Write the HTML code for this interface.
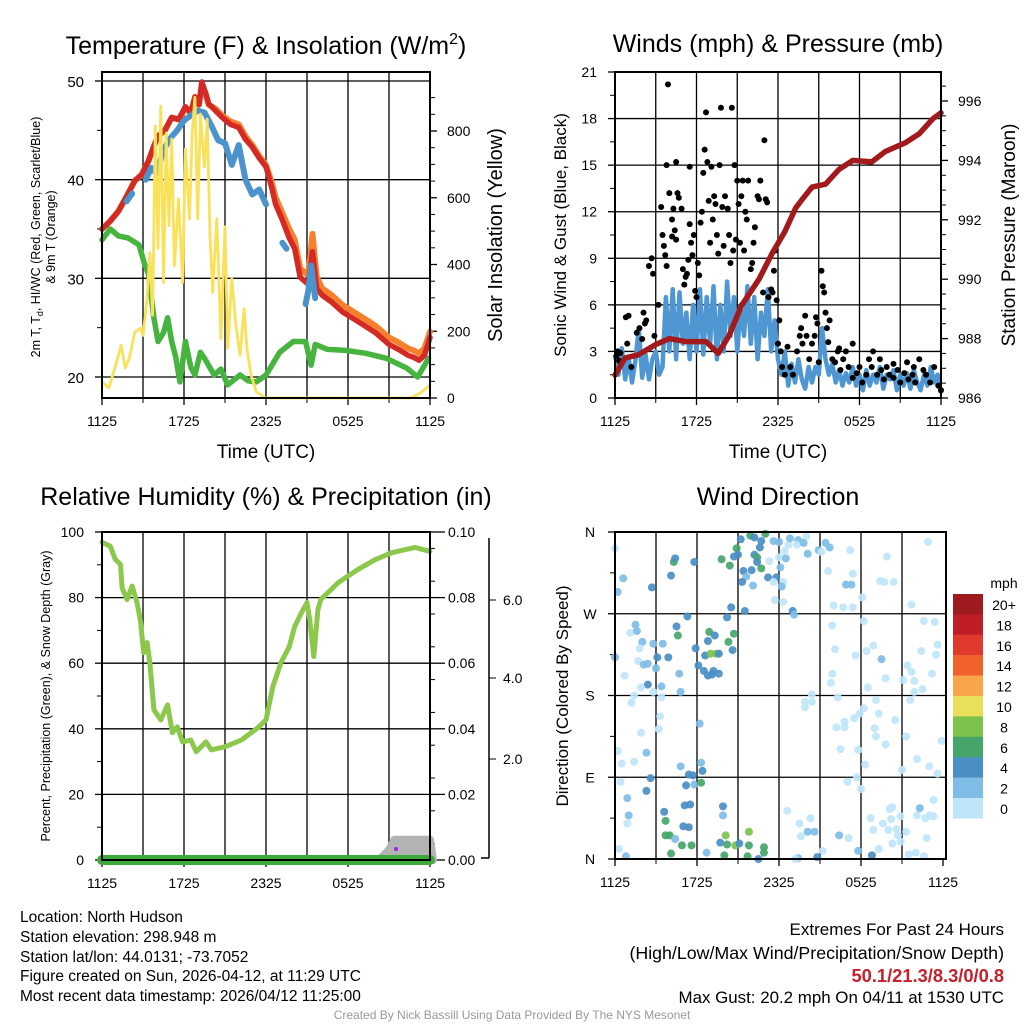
<!DOCTYPE html>
<html><head><meta charset="utf-8"><style>
html,body{margin:0;padding:0;background:#fff;}
svg{display:block;font-family:"Liberation Sans",Arial,sans-serif;}
</style></head><body>
<svg id="svg" width="1024" height="1024" viewBox="0 0 1024 1024" xmlns="http://www.w3.org/2000/svg">
<rect width="1024" height="1024" fill="#fff"/>
<g id="p1"></g>
<g id="p2"></g>
<g id="p3"></g>
<g id="p4"></g>
<text x="266" y="54" font-size="25" text-anchor="middle">Temperature (F) &amp; Insolation (W/m<tspan dy="-10" font-size="16">2</tspan><tspan dy="10">)</tspan></text>
<text x="778" y="52" font-size="25" text-anchor="middle">Winds (mph) &amp; Pressure (mb)</text>
<text x="266" y="505" font-size="25" text-anchor="middle">Relative Humidity (%) &amp; Precipitation (in)</text>
<text x="778" y="505" font-size="25" text-anchor="middle">Wind Direction</text>
<text transform="translate(40,237) rotate(-90)" font-size="12.5" text-anchor="middle">2m T, T<tspan font-size="9" dy="3">d</tspan><tspan dy="-3">, HI/WC (Red, Green, Scarlet/Blue)</tspan></text>
<text transform="translate(55,237) rotate(-90)" font-size="12.5" text-anchor="middle">&amp; 9m T (Orange)</text>
<text transform="translate(502,235) rotate(-90)" font-size="20" text-anchor="middle">Solar Insolation (Yellow)</text>
<text x="266" y="458" font-size="19" text-anchor="middle">Time (UTC)</text>
<text transform="translate(566,235) rotate(-90)" font-size="17" text-anchor="middle">Sonic Wind &amp; Gust (Blue, Black)</text>
<text transform="translate(1015,235) rotate(-90)" font-size="19" text-anchor="middle">Station Pressure (Maroon)</text>
<text x="778" y="458" font-size="19" text-anchor="middle">Time (UTC)</text>
<text transform="translate(50,696) rotate(-90)" font-size="12.5" text-anchor="middle">Percent, Precipitation (Green), &amp; Snow Depth (Gray)</text>
<text transform="translate(568,696) rotate(-90)" font-size="17" text-anchor="middle">Direction (Colored By Speed)</text>
<text x="1004" y="588" font-size="14" text-anchor="middle">mph</text>
<g font-size="15.5">
<text x="20" y="922">Location: North Hudson</text>
<text x="20" y="942">Station elevation: 298.948 m</text>
<text x="20" y="962">Station lat/lon: 44.0131; -73.7052</text>
<text x="20" y="981">Figure created on Sun, 2026-04-12, at 11:29 UTC</text>
<text x="20" y="1001">Most recent data timestamp: 2026/04/12 11:25:00</text>
</g>
<g font-size="17" text-anchor="end">
<text x="1004" y="935">Extremes For Past 24 Hours</text>
<text x="1004" y="959" font-size="17.8">(High/Low/Max Wind/Precipitation/Snow Depth)</text>
<text x="1004" y="982" fill="#c8202a" font-weight="bold" font-size="18.3">50.1/21.3/8.3/0/0.8</text>
<text x="1004" y="1003" font-size="16.9">Max Gust: 20.2 mph On 04/11 at 1530 UTC</text>
</g>
<text x="512" y="1019" font-size="12" fill="#999" text-anchor="middle">Created By Nick Bassill Using Data Provided By The NYS Mesonet</text>
</svg>
<script>
// ---------- Temperature panel data ----------
const redT=[0,0.6,1.2,1.8,2.4,2.9,3.4,3.8,4.1,4.6,5.1,5.6,6.1,6.5,6.8,7.1,7.3,7.6,7.8,8.3,8.8,9.4,10,10.5,11,11.5,12,12.4,12.7,13.2,13.7,14.1,14.5,15.1,15.4,15.7,16.1,16.8,17.6,18.3,19.1,20,21,21.7,22.4,22.8,23.2,23.6,24];
const redV=[35,35.8,36.8,38.3,39.9,40.5,41.9,43.4,44.4,45.0,46.3,46.1,47.4,46.8,48.4,47.6,49.9,48.7,47.7,47.0,46.3,45.6,45.3,44.1,43.3,42.2,41.3,39.3,37.5,35.9,34.1,33.0,30.1,29.4,32.7,29.0,28.3,27.6,26.6,26.0,25.3,24.5,23.3,22.8,22.2,22.0,21.7,22.2,24];
const orangeV=[35,35.8,36.8,38.3,39.9,40.5,41.9,43.4,44.4,45.0,46.3,46.1,47.2,46.8,48.2,47.6,49.6,48.6,47.6,47.2,46.5,45.9,45.6,44.4,43.5,42.4,41.5,39.8,38.2,36.6,35,33.9,31,30.3,34.5,30.2,29,28.3,27.3,26.7,26,25.2,24,23.5,22.9,22.7,22.4,22.9,24.6];
const blueT=[1.8,2.2,null,3.2,3.6,4.0,4.5,5,5.5,6,6.5,7,7.5,8,8.5,9,9.5,10,10.5,11,11.5,12,null,13.2,13.5,null,14.9,15.1,15.3,15.6];
const blueV=[37.8,38.6,null,40,41.2,40.6,43,44.2,45,46,46.5,47,46.8,45.5,44,43.7,41.5,43.5,40,38.5,39,37.5,null,33.6,33.0,null,27.4,28.8,31.3,28];
const greenT=[0,0.6,1.2,1.9,2.7,3.1,3.4,3.8,4.1,4.5,4.8,5.1,5.4,5.7,6.1,6.5,6.8,7.2,7.5,8.2,8.7,9.2,10.1,10.7,11.3,12,13,14,14.9,15.3,15.6,16.5,17.8,19.3,20.8,22.3,23.1,23.9];
const greenV=[33.9,35,34.3,34.1,33.4,31.5,30.4,26,23.6,24.5,26,23.6,22.0,19.5,23.6,21.0,20.2,22.5,21.9,20.2,20.8,19.2,20.2,19.6,19.5,20.2,22.5,23.6,23.6,21.2,23.3,22.8,22.7,22.4,21.9,20.9,20,21.9];
const solarT=[0,0.5,1,1.4,1.7,2,2.4,2.8,3,3.3,3.5,3.7,3.9,4.1,4.3,4.5,4.7,4.9,5.1,5.3,5.6,5.9,6.1,6.4,6.6,6.8,7,7.2,7.5,7.7,7.9,8.1,8.4,8.7,9,9.2,9.5,9.8,10.1,10.4,10.6,10.9,11.3,12,18,22.6,23.3,24];
const solarV=[49,30,98,158,90,119,197,209,188,299,436,248,815,448,875,346,794,516,776,397,597,346,746,537,794,901,537,851,692,836,487,316,537,179,513,149,358,218,128,268,149,69,18,0,0,0,15,39];
const tempTicks=[20,30,40,50];
const solarTicks=[0,200,400,600,800];
const timeLabels=["1125","1725","2325","0525","1125"];

// ---------- Winds panel data ----------
const windV=[2.8,1.5,3.2,1.2,2.6,1.0,2.4,4.5,1.3,2.8,1.2,2.5,
3.0,1.5,2.0,6.5,3.0,7.0,2.5,6.8,3.5,5.5,2.5,6.0,
3.0,7.0,2.8,6.5,3.5,7.2,2.5,6.0,3.0,7.5,4.0,6.5,
3.0,6.0,4.0,7.2,3.5,6.5,2.5,5.5,4.0,7.0,3.0,5.0,
2.5,1.5,3.0,0.8,2.2,1.0,2.5,1.2,0.6,2.0,1.0,2.0,
1.5,4.5,2.5,1.5,2.2,1.0,1.8,0.8,1.6,1.0,2.0,0.8,
1.5,0.5,1.8,0.8,1.5,1.0,2.0,0.6,1.5,1.2,1.8,0.5,
1.5,0.8,1.6,0.6,1.8,1.0,0.5,1.5,0.8,2.0,1.0,1.5,0.3];
const gustT=[0.1,0.2,0.4,0.3,0.8,1.0,0.9,1.2,1.6,1.8,2.0,2.2,2.1,2.3,2.5,2.8,2.7,2.9,3.2,3.4,3.5,3.6,3.7,3.8,3.8,3.9,4.0,4.2,4.2,4.3,4.4,4.5,4.6,4.5,4.7,4.9,5.0,5.1,5.2,5.3,5.4,5.5,5.5,5.6,5.7,5.8,5.9,6.0,6.1,6.2,6.3,6.4,6.5,6.6,6.7,6.8,6.9,7.0,7.1,7.2,7.3,7.4,7.5,7.6,7.7,7.8,7.9,8.0,8.1,8.3,8.4,8.5,8.6,8.7,8.8,8.9,9.0,9.1,9.2,9.3,9.5,9.4,9.6,9.7,9.8,10.0,10.1,10.2,10.3,10.5,10.6,10.7,10.9,11.0,11.1,11.2,11.3,11.5,11.6,11.7,11.8,11.9,12.0,12.1,12.2,12.3,12.5,12.7,12.9,13.1,13.4,13.6,13.7,13.8,14.0,14.1,14.3,14.5,14.7,14.8,14.9,15.0,15.2,15.3,15.4,15.5,15.6,15.7,15.8,16.0,16.2,16.4,16.6,16.8,17.0,17.2,17.5,17.8,18.0,18.2,18.5,18.7,18.9,19.0,19.3,19.6,19.8,20.0,20.2,20.5,20.8,21.0,21.3,21.6,21.9,22.1,22.4,22.7,22.9,23.2,23.5,23.8,24.0,22.0,21.5,20.5,19.5,17.5,16.5];
const gustV=[2.7,3.0,2.9,2.4,5.2,5.3,3.5,2.0,4.2,4.5,3.8,4.8,5.5,5.0,8.5,8.0,9.0,4.0,6.0,12.3,10.5,9.8,9.2,8.5,15.0,20.2,13.2,11.5,10.4,12.2,10.8,10.2,13.2,15.2,12.9,12.2,8.3,7.3,7.8,8.0,8.9,14.9,11.2,10.0,9.2,10.5,6.9,6.5,8.7,7.9,11.3,12.0,14.5,16.0,18.4,15.2,12.7,10.0,14.9,11.5,13.0,12.5,10.5,9.3,15.0,18.7,12.3,9.8,13.0,12.2,10.5,8.7,18.7,9.5,15.0,10.2,14.0,12.5,10.0,13.0,9.5,14.0,12.0,11.5,14.0,8.3,8.7,10.0,11.0,13.0,12.8,14.0,6.8,16.6,12.8,12.6,6.5,7.0,6.8,8.2,9.5,6.3,3.5,5.0,3.0,2.0,1.5,3.3,2.0,1.5,3.0,4.0,4.5,3.5,5.3,4.0,2.5,3.5,4.0,5.2,4.8,2.3,8.2,7.2,6.8,5.5,4.5,3.6,5.0,2.5,2.3,3.0,1.8,2.5,3.0,2.0,1.3,1.6,2.0,1.0,1.5,2.5,2.0,3.0,1.5,1.8,1.2,2.0,1.5,1.3,1.8,1.0,1.6,1.2,1.5,1.0,2.5,1.8,1.5,1.0,2.0,0.8,0.5,2.0,2.3,2.2,2.5,3.5,3.2];
const presT=[0,0.74,1.7,3.0,4.0,5.2,6.7,7.6,8.4,9.3,10.6,11.6,12.5,13.3,13.8,14.5,15.5,16.5,17.5,18.9,19.9,21.4,22.4,23.4,24];
const presV=[986.77,987.35,987.45,987.8,988.0,987.9,987.9,987.5,988.1,989.1,990.0,990.9,991.6,992.4,992.7,993.1,993.2,993.7,994.0,993.95,994.3,994.6,994.9,995.4,995.6];
const windTicks=[0,3,6,9,12,15,18,21];
const presTicks=[986,988,990,992,994,996];

// ---------- Humidity panel data ----------
const rhT=[0,0.6,0.98,1.35,1.47,1.83,2.2,2.56,2.8,3.05,3.3,3.5,3.8,4.3,4.8,5.15,5.5,5.9,6.5,6.9,7.6,8.0,9,10.2,11.4,12,12.5,13.1,13.7,14.1,14.6,15,15.2,15.5,15.8,16,17.3,18.7,20,21.2,22.9,24];
const rhV=[96.9,95.7,91.6,90.1,83,79.4,83.5,78.5,73.3,63.2,66.3,60.2,45.8,42.7,47.3,38.8,40.6,36,36.6,33,36,33.6,34.5,36.6,40.3,42.7,52.8,60.2,65,71.2,75.4,78.5,73.3,62,76.3,79.4,84.6,88.5,91.6,93.7,95.3,94.1];
const precipT=[0,24];
const precipV=[0,0];
const snowT=[20.3,21.0,21.4,24];
const snowV=[0,0.2,0.4,0.4];
const rhTicks=[0,20,40,60,80,100];
const precipTicks=["0.00","0.02","0.04","0.06","0.08","0.10"];
const snowTicks=[2,4,6];

// ---------- Wind direction data ----------
const dirT=[0,0.6,0.2,2.7,4.3,4.4,4.1,5.8,1.5,1.1,1.6,2.0,2.8,3.5,1.8,0,3.1,3.9,1.7,2.1,2.4,3.0,0.7,4.7,2.4,1.9,3.4,2.8,4.8,1.4,1.2,3.4,3.3,3.2,6.2,1.9,0.2,2.3,0.5,1.4,4.8,6.3,6.4,5.4,5.7,5.8,6.3,5.2,2.6,0.4,2.3,0.9,1.0,0.9,3.6,3.7,5.1,5.5,3.7,4.0,4.4,5.0,5.4,4.9,5.6,4.1,0.3,0.8,6.7,7.9,7.9,8.1,7.7,8.2,8.0,8.8,9.1,9.8,9.8,9.7,10.5,10.9,10.9,6.9,7.3,6.8,8.3,8.7,8.6,5.9,6.6,7.0,7.4,7.6,6.1,6.5,6.8,7.2,7.6,7.1,5.3,4.5,4.6,8.2,8.5,9.5,7.8,8.4,8.9,8.7,9.0,9.2,9.9,10.2,11.0,10.7,10.6,10.2,10.4,10.4,10.7,10.0,9.4,9.6,9.3,10.1,11.2,11.8,11.6,12.1,11.3,12.0,12.5,12.4,12.7,12.8,13.4,13.3,14.0,13.8,12.0,11.6,14.1,14.9,15.4,15.7,15.1,12.3,12.2,11.7,12.3,13.0,13.1,15.6,17.2,17.4,16.9,17.3,16.0,16.7,17.4,18.1,19.9,19.4,19.7,20.4,21.7,22.9,15.9,16.1,18.2,18.4,18.9,17.6,19.5,15.9,15.8,16.3,18.5,19.8,21.1,21.4,21.7,21.9,22.4,22.6,23.4,23.6,23.5,23.2,22.5,21.9,21.6,13.9,13.9,14.4,14.4,19.1,18.2,19.3,17.9,17.5,16.8,16.2,16.8,19.0,20.5,19.1,19.8,21.3,16.5,17.8,18.3,22.1,21.0,23.0,23.6,23.9,17.0,17.7,18.0,23.3,12.6,14.3,13.5,14.1,13.6,14.6,16.4,17.1,15.2,14.8,13.4,13.2,17.8,18.7,18.8,19.3,18.9,19.6,20.0,20.2,20.1,20.3,20.6,20.9,20.3,20.9,20.7,21.3,21.5,22.0,22.1,22.3,22.7,23.0,23.3,22.8,22.6];
const dirV=[342,309,294,299,327,331,312,327,258,249,251,239,237,237,232,222,222,222,218,214,215,210,202,204,192,189,190,184,184,180,172,178,157,143,149,139,119,117,105,107,102,106,97,93,92,82,84,81,89,85,75,67,48,39,52,42,59,60,26,26,22,36,35,15,15,6,11,3,7,58,48,26,18,16,4,15,17,30,15,3,0,13,7,250,246,240,239,248,230,232,224,226,226,226,213,207,202,207,204,203,267,256,246,266,277,273,330,323,342,333,335,352,356,354,358,350,343,335,332,327,320,318,317,311,305,301,310,310,305,321,328,332,331,339,346,353,351,346,355,348,349,350,336,340,348,343,338,305,300,285,283,273,269,317,340,314,302,302,279,277,277,288,333,306,305,305,280,349,257,231,262,229,235,224,220,204,194,178,189,199,197,213,206,196,229,262,261,236,225,204,187,184,175,173,167,181,173,175,166,160,160,155,151,145,145,144,153,135,126,135,121,120,104,110,98,102,94,130,85,90,77,65,53,45,39,30,25,30,26,23,9,2,1,0,9,45,4,11,32,39,32,44,55,57,33,47,17,19,26,30,5,7,48,56,45,48,47,23,3];
const dirS=[1,2,2,4,6,4,4,4,2,1,2,2,2,2,1,2,4,4,1,2,2,2,1,2,4,1,2,1,2,1,1,1,1,1,2,1,1,2,1,1,2,2,4,4,4,2,6,4,4,1,4,2,2,1,4,6,4,4,6,6,2,4,4,6,6,6,1,2,2,4,2,8,4,6,6,8,4,8,6,6,4,6,6,6,4,4,6,6,4,4,4,8,8,4,4,4,4,4,4,4,4,4,6,4,4,4,6,6,6,4,4,4,6,4,6,4,4,4,6,4,6,4,4,2,4,2,4,4,1,2,1,1,2,1,1,2,2,1,1,2,2,2,2,2,2,2,1,1,2,1,1,4,2,1,1,1,2,2,1,1,1,1,1,1,1,1,1,1,1,1,1,1,1,1,2,1,1,1,1,1,1,1,1,1,1,1,1,1,1,1,1,1,1,1,1,1,1,1,1,1,1,1,1,1,1,1,1,1,1,1,1,1,1,1,1,1,1,1,1,1,1,1,1,1,1,2,1,2,2,1,1,4,2,1,2,1,4,1,1,1,1,1,1,1,1,1,1,1,1,1,1,1,1,2,1,1,1,1,1,1];
const dirTicks=["N","E","S","W","N"];
const speedLabels=["20+","18","16","14","12","10","8","6","4","2","0"];
const speedColors=["#9e1a1f","#c01e27","#e03a2c","#f0622a","#f9a64a","#e8e05a","#7cc24c","#45a56a","#4a8ec6","#7fbde6","#bfe6f8"];

// ---------- helpers ----------
const NS="http://www.w3.org/2000/svg";
function mk(parent,tag,attrs){const e=document.createElementNS(NS,tag);for(const k in attrs)e.setAttribute(k,attrs[k]);parent.appendChild(e);return e;}
function lin(d0,d1,r0,r1){return v=>r0+(v-d0)*(r1-r0)/(d1-d0);}
function pathFrom(ts,vs,sx,sy){let d="",pen=false;for(let i=0;i<ts.length;i++){if(ts[i]===null||vs[i]===null){pen=false;continue;}d+=(pen?"L":"M")+sx(ts[i]).toFixed(1)+","+sy(vs[i]).toFixed(1);pen=true;}return d;}
function frame(g,x0,x1,y0,y1,nv){
  const step=(x1-x0)/8;
  for(let i=1;i<8;i++){const l=mk(g,"line",{x1:x0+i*step,x2:x0+i*step,y1:y0,y2:y1,stroke:"#000","stroke-width":1.3});
  
  }
  const ticks=[0,2,4,6,8];
  for(let i=0;i<5;i++){const x=x0+ticks[i]*step;const t=mk(g,"text",{x:x,y:y1+28,"font-size":14,"text-anchor":"middle"});t.textContent=timeLabels[i];
  
  
  mk(g,"line",{x1:x,x2:x,y1:y1,y2:y1+7,stroke:"#000","stroke-width":1.3});}
  for(let i=1;i<8;i+=2){const x=x0+i*step;mk(g,"line",{x1:x,x2:x,y1:y1,y2:y1+5,stroke:"#000","stroke-width":1});}
}
function border(g,x0,x1,y0,y1){const r=mk(g,"rect",{x:x0,y:y0,width:x1-x0,height:y1-y0,fill:"none",stroke:"#000","stroke-width":2});

}
function hgrid(g,x0,x1,y){const l=mk(g,"line",{x1:x0,x2:x1,y1:y,y2:y,stroke:"#000","stroke-width":1.3});

}
function label(g,x,y,txt,anchor,size,name){const t=mk(g,"text",{x:x,y:y,"font-size":size||14,"text-anchor":anchor});t.textContent=txt;

return t;}

// ---------- Panel 1 ----------
(function(){
const g=document.getElementById("p1");
const X0=102,X1=430,Y0=72,Y1=398;
const sx=lin(0,24,X0,X1), sy=lin(20,50,377,81), ss=lin(0,800,398,131);
frame(g,X0,X1,Y0,Y1);
tempTicks.forEach(v=>{hgrid(g,X0,X1,sy(v));mk(g,"line",{x1:X0-7,x2:X0,y1:sy(v),y2:sy(v),stroke:"#000","stroke-width":1.3});label(g,84,sy(v)+6,String(v),"end",15,"temperature-tick-label");});
[25,35,45].forEach(v=>mk(g,"line",{x1:X0-5,x2:X0,y1:sy(v),y2:sy(v),stroke:"#000"}));
solarTicks.forEach(v=>{mk(g,"line",{x1:X1,x2:X1+7,y1:ss(v),y2:ss(v),stroke:"#000","stroke-width":1.3});label(g,447,ss(v)+5,String(v),"start",14,"solar-tick-label");});
for(let v=50;v<950;v+=50){if(v%200)mk(g,"line",{x1:X1,x2:X1+5,y1:ss(v),y2:ss(v),stroke:"#000"});}
const series=[[solarT,solarV,"#f9e15a",2.8,ss,"solar-line"],[greenT,greenV,"#46b43f",5.5,sy,"dewpoint-line"],[redT,orangeV,"#f6802e",6,sy,"9m-temperature-line"],[blueT,blueV,"#4a93cd",6,sy,"wind-chill-line"],[redT,redV,"#d42a25",5.5,sy,"2m-temperature-line"]];
const order=[1,2,4,3,0];
order.forEach(i=>{const s=series[i];const p=mk(g,"path",{d:pathFrom(s[0],s[1],sx,s[4]),fill:"none",stroke:s[2],"stroke-width":s[3],"stroke-linejoin":"round","stroke-linecap":"round"});

});
border(g,X0,X1,Y0,Y1);
})();

// ---------- Panel 2 ----------
(function(){
const g=document.getElementById("p2");
const X0=615,X1=941,Y0=72,Y1=398;
const sx=lin(0,24,X0,X1), sy=lin(0,21,398,72), sp=lin(986,996,398,101);
frame(g,X0,X1,Y0,Y1);
windTicks.forEach(v=>{hgrid(g,X0,X1,sy(v));mk(g,"line",{x1:X0-7,x2:X0,y1:sy(v),y2:sy(v),stroke:"#000","stroke-width":1.3});label(g,597,sy(v)+5,String(v),"end",14,"wind-tick-label");});
for(let v=1.5;v<21;v+=3)mk(g,"line",{x1:X0-5,x2:X0,y1:sy(v),y2:sy(v),stroke:"#000"});
presTicks.forEach(v=>{mk(g,"line",{x1:X1,x2:X1+7,y1:sp(v),y2:sp(v),stroke:"#000","stroke-width":1.3});label(g,958,sp(v)+5,String(v),"start",14,"pressure-tick-label");});
for(let v=986.5;v<997;v+=0.5){if((v*2)%4)mk(g,"line",{x1:X1,x2:X1+5,y1:sp(v),y2:sp(v),stroke:"#000"});}
const wt=windV.map((v,i)=>i*0.25);
const wp=mk(g,"path",{d:pathFrom(wt,windV,sx,sy),fill:"none",stroke:"#4f97d3","stroke-width":4.5,"stroke-linejoin":"round"});


gustT.forEach((t,i)=>{const c=mk(g,"circle",{cx:sx(t),cy:sy(gustV[i]),r:3,fill:"#000"});

});
const pp=mk(g,"path",{d:pathFrom(presT,presV,sx,sp),fill:"none",stroke:"#a31a1c","stroke-width":5.5,"stroke-linejoin":"round","stroke-linecap":"round"});


border(g,X0,X1,Y0,Y1);
})();

// ---------- Panel 3 ----------
(function(){
const g=document.getElementById("p3");
const X0=102,X1=430,Y0=532,Y1=860;
const sx=lin(0,24,X0,X1), sy=lin(0,100,860,532), sq=lin(0,0.1,860,532), sn=lin(0,2,860,759);
frame(g,X0,X1,Y0,Y1);
rhTicks.forEach(v=>{hgrid(g,X0,X1,sy(v));mk(g,"line",{x1:X0-7,x2:X0,y1:sy(v),y2:sy(v),stroke:"#000","stroke-width":1.3});label(g,84,sy(v)+5,String(v),"end",14,"humidity-tick-label");});
for(let v=10;v<100;v+=20)mk(g,"line",{x1:X0-5,x2:X0,y1:sy(v),y2:sy(v),stroke:"#000"});
precipTicks.forEach(s=>{const v=parseFloat(s);mk(g,"line",{x1:X1,x2:X1+15,y1:sq(v),y2:sq(v),stroke:"#000","stroke-width":1.3});label(g,448,sq(v)+5,s,"start",14,"precip-tick-label");});
for(let v=0.005;v<0.1;v+=0.01)mk(g,"line",{x1:X1,x2:X1+5,y1:sq(v),y2:sq(v),stroke:"#000"});
mk(g,"line",{x1:489,x2:489,y1:538,y2:858,stroke:"#000","stroke-width":1.5});
mk(g,"line",{x1:489,x2:481,y1:858,y2:858,stroke:"#000","stroke-width":1.5});
snowTicks.forEach(v=>{const y=[759,678,600][snowTicks.indexOf(v)];mk(g,"line",{x1:489,x2:496,y1:y,y2:y,stroke:"#000"});label(g,503,y+5,v.toFixed(1),"start",14,"snow-depth-tick-label");});
const sp=snowT.map((t,i)=>sx(t).toFixed(1)+","+sn(snowV[i]).toFixed(1)).join(" ");
const snow=mk(g,"polygon",{points:sp+" "+(sx(24)+3)+",860 "+sx(20.3)+",860",fill:"#b3b3b3",stroke:"#b3b3b3","stroke-width":8,"stroke-linejoin":"round"});


const dot=mk(g,"circle",{cx:396,cy:849,r:2,fill:"#a020f0"});


const pr=mk(g,"path",{d:pathFrom(precipT,precipV,sx,sq),fill:"none",stroke:"#3daa3b","stroke-width":10,"stroke-linecap":"round"});


const rh=mk(g,"path",{d:pathFrom(rhT,rhV,sx,sy),fill:"none",stroke:"#8cc84b","stroke-width":5,"stroke-linejoin":"round","stroke-linecap":"round"});


border(g,X0,X1,Y0,Y1);
})();

// ---------- Panel 4 ----------
(function(){
const g=document.getElementById("p4");
const X0=615,X1=946,Y0=532,Y1=859;
const sx=lin(0,24,X0,943), sy=lin(0,360,859,532);
frame(g,X0,943,Y0,Y1);
dirTicks.forEach((s,i)=>{const y=sy(i*90);if(i>0&&i<4)hgrid(g,X0,X1,y);mk(g,"line",{x1:X0-7,x2:X0,y1:y,y2:y,stroke:"#000","stroke-width":1.3});label(g,590,y+5,s,"middle",14,"direction-tick-label");});
for(let v=45;v<360;v+=90)mk(g,"line",{x1:X0-5,x2:X0,y1:sy(v),y2:sy(v),stroke:"#000"});
function col(s){let idx=10-Math.floor(s/2);if(s>=20)idx=0;return speedColors[Math.max(0,Math.min(10,idx))];}
dirT.forEach((t,i)=>{const c=mk(g,"circle",{cx:sx(t),cy:sy(dirV[i]),r:4,fill:col(dirS[i]),"fill-opacity":0.92});

});
border(g,X0,X1,Y0,Y1);
speedLabels.forEach((s,i)=>{const y=594+i*20.4;const r=mk(g,"rect",{x:953,y:y,width:30,height:20.6,fill:speedColors[i]});


label(g,1004,y+16,s,"middle",14,"colorbar-label");});
})();
</script>
</body></html>
